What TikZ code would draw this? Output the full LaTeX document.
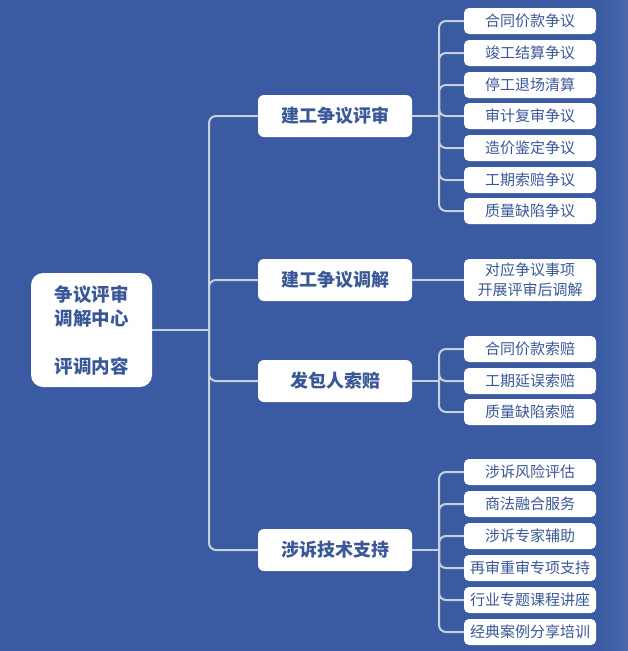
\documentclass[tikz,border=0pt]{standalone}
\usepackage{fontspec}
\setmainfont{Noto Sans CJK SC}
\definecolor{bg}{HTML}{3A5BA1}
\definecolor{bgr}{HTML}{4868AB}
\definecolor{txt}{HTML}{3A5898}
\definecolor{linec}{HTML}{C8D0DD}
\begin{document}
\begin{tikzpicture}[x=1pt,y=-1pt,
  rootbox/.style={fill=white, rounded corners=12pt, minimum width=121pt, minimum height=114pt, text=txt, font=\fontsize{18.5}{24}\selectfont\bfseries, align=center, inner sep=0pt},
  lvtwo/.style={fill=white, rounded corners=6pt, minimum width=154pt, minimum height=42pt, text=txt, font=\fontsize{18}{22}\selectfont\bfseries, inner sep=0pt},
  leaf/.style={fill=white, rounded corners=5pt, minimum width=132pt, minimum height=26pt, text=txt, font=\fontsize{15}{20}\selectfont, inner sep=0pt, align=center},
  link/.style={draw=linec, line width=2pt, rounded corners=7pt}]
\fill[bg] (0,0) rectangle (628,651);
\shade[left color=bg, right color=bgr] (598,0) rectangle (628,651);
\useasboundingbox (0,0) rectangle (628,651);

\node[rootbox] (root) at (91.5,330) {争议评审\\调解中心\\\mbox{}\\评调内容};

\node[lvtwo] (a) at (335,116) {建工争议评审};
\node[lvtwo] (b) at (335,280) {建工争议调解};
\node[lvtwo] (c) at (335,381) {发包人索赔};
\node[lvtwo] (d) at (335,550) {涉诉技术支持};

\node[leaf] (a1) at (530,21) {合同价款争议};
\node[leaf] (a2) at (530,53) {竣工结算争议};
\node[leaf] (a3) at (530,85) {停工退场清算};
\node[leaf] (a4) at (530,116) {审计复审争议};
\node[leaf] (a5) at (530,148) {造价鉴定争议};
\node[leaf] (a6) at (530,180) {工期索赔争议};
\node[leaf] (a7) at (530,211) {质量缺陷争议};

\node[leaf, minimum height=42pt] (b1) at (530,280) {对应争议事项\\开展评审后调解};

\node[leaf] (c1) at (530,349) {合同价款索赔};
\node[leaf] (c2) at (530,381) {工期延误索赔};
\node[leaf] (c3) at (530,412) {质量缺陷索赔};

\node[leaf] (d1) at (530,472) {涉诉风险评估};
\node[leaf] (d2) at (530,504) {商法融合服务};
\node[leaf] (d3) at (530,536) {涉诉专家辅助};
\node[leaf] (d4) at (530,568) {再审重审专项支持};
\node[leaf] (d5) at (530,600) {行业专题课程讲座};
\node[leaf] (d6) at (530,632) {经典案例分享培训};

\coordinate (j0) at (209,330);
\coordinate (j1) at (439,116);
\coordinate (j3) at (439,381);
\coordinate (j4) at (439,550);

\draw[link] (root.east) -- (j0);
\foreach \n in {a,b,c,d} \draw[link] (j0) |- (\n.west);

\draw[link] (a.east) -- (j1);
\foreach \n in {a1,a2,a3,a4,a5,a6,a7} \draw[link] (j1) |- (\n.west);
\draw[link] (b.east) -- (b1.west);
\draw[link] (c.east) -- (j3);
\foreach \n in {c1,c2,c3} \draw[link] (j3) |- (\n.west);
\draw[link] (d.east) -- (j4);
\foreach \n in {d1,d2,d3,d4,d5,d6} \draw[link] (j4) |- (\n.west);
\end{tikzpicture}
\end{document}
